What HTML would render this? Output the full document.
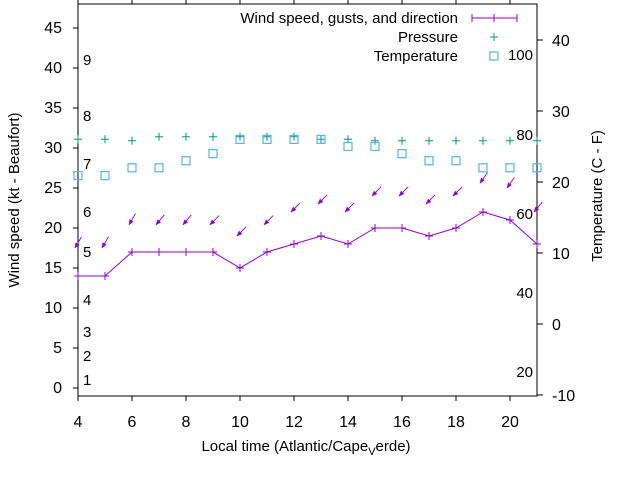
<!DOCTYPE html>
<html><head><meta charset="utf-8"><style>
body{margin:0;background:#fff}
svg{display:block;font-family:"Liberation Sans",sans-serif}
</style></head><body>
<svg id="chart" width="640" height="480" viewBox="0 0 640 480"></svg>
<script>
const hours=[4,5,6,7,8,9,10,11,12,13,14,15,16,17,18,19,20,21];
const windSpeed=[14,14,17,17,17,17,15,17,18,19,18,20,20,19,20,22,21,18];
const gusts=[17.5,17.5,20.4,20.4,20.4,20.4,19,20.4,22,23,22,24,24,23,24,25.6,25,22];
const gustDir=[30,30,30,40,40,45,45,45,45,45,45,45,45,45,45,35,35,40];
const pressure=[31.1,31.1,30.9,31.4,31.4,31.4,31.4,31.4,31.4,31.1,31.1,30.9,30.9,30.9,30.9,30.9,30.9,30.9];
const tempC=[20.9,20.9,22,22,23,24,26,26,26,26,25,25,24,23,23,22,22,22];
const leftTicks=[0,5,10,15,20,25,30,35,40,45];
const rightTicks=[-10,0,10,20,30,40];
const xTicks=[4,6,8,10,12,14,16,18,20];
const beaufort=[["1",379],["2",355],["3",331],["4",299],["5",251],["6",211],["7",163],["8",115],["9",59]];
const fahr=[["20",371],["40",292],["60",213],["80",134],["100",54]];
const L=78,R=537,T=4,B=396;
const X=h=>L+(h-4)*(R-L)/17;
const Y=v=>388-v*8;
const Y2=c=>40+(40-c)*7.1;
const svg=document.getElementById('chart');
const NS='http://www.w3.org/2000/svg';
function el(tag,attrs,parent){const e=document.createElementNS(NS,tag);for(const k in attrs)e.setAttribute(k,attrs[k]);(parent||svg).appendChild(e);return e;}
function txt(s,x,y,anchor,size){const t=el('text',{x:x,y:y,'text-anchor':anchor||'middle','font-size':size||15,fill:'#000'});t.textContent=s;return t;}
const frame=el('rect',{x:L,y:T,width:R-L,height:B-T,fill:'none',stroke:'#000','stroke-width':1});


leftTicks.forEach(v=>{const y=Y(v);el('line',{x1:L-5,y1:y,x2:L,y2:y,stroke:'#000'});
 const t=txt(String(v),62,y+5,'end',16);
 
 });
rightTicks.forEach(v=>{const y=Y2(v);el('line',{x1:R,y1:y,x2:R+6,y2:y,stroke:'#000'});
 const t=txt(String(v),552,y+6,'start',16);
 
 });
xTicks.forEach(v=>{const x=X(v);el('line',{x1:x,y1:B,x2:x,y2:B+5,stroke:'#000'});el('line',{x1:x,y1:T,x2:x,y2:T-4,stroke:'#000'});
 const t=txt(String(v),x,427,'middle',16);
 
 });
beaufort.forEach(b=>{const t=txt(b[0],83,b[1]+6,'start',15);
 
 });
fahr.forEach(f=>{const t=txt(f[0],533,f[1]+6,'end',15);
 
 });
const g1=el('g',{stroke:'#009e73','stroke-width':1});


hours.forEach((h,i)=>{const x=X(h),y=Y(pressure[i]);el('path',{d:`M${x-4} ${y}H${x+4}M${x} ${y-4}V${y+4}`},g1);});
const g2=el('g',{stroke:'#56b4e9','stroke-width':1.2,fill:'none'});


hours.forEach((h,i)=>{const x=X(h),y=Y2(tempC[i]);el('rect',{x:x-4,y:y-4,width:8,height:8},g2);});
const pts=hours.map((h,i)=>X(h)+','+Y(windSpeed[i])).join(' ');
const wl=el('polyline',{points:pts,fill:'none',stroke:'#9400d3','stroke-width':1});


const g3=el('g',{stroke:'#9400d3','stroke-width':1});


hours.forEach((h,i)=>{const x=X(h),y=Y(windSpeed[i]);el('path',{d:`M${x-4} ${y}H${x+4}M${x} ${y-4}V${y+4}`},g3);});
const g4=el('g',{stroke:'#9400d3','stroke-width':0.9,fill:'#9400d3'});


hours.forEach((h,i)=>{const x=X(h)-3,y=Y(gusts[i]);const a=gustDir[i]*Math.PI/180;
 const dx=Math.sin(a)*13,dy=-Math.cos(a)*13;
 el('line',{x1:x,y1:y,x2:x+dx,y2:y+dy},g4);
 const ux=dx/13,uy=dy/13,px=-uy,py=ux;
 el('polygon',{points:`${x},${y} ${x+ux*5+px*2},${y+uy*5+py*2} ${x+ux*5-px*2},${y+uy*5-py*2}`,'stroke-width':0.5},g4);});
const lg=el('g',{});


[["Wind speed, gusts, and direction",18],["Pressure",37],["Temperature",56]].forEach(r=>{const t=txt(r[0],458,r[1]+5,'end',15);lg.appendChild(t);});
el('path',{d:'M472 18H517M472 14V22M517 14V22M494 14V22',stroke:'#9400d3',fill:'none'},lg);
el('path',{d:'M490 37H498M494 33V41',stroke:'#009e73',fill:'none'},lg);
el('rect',{x:490,y:52,width:8,height:8,stroke:'#56b4e9',fill:'none','stroke-width':1.2},lg);
const xt=el('text',{x:306,y:451,'text-anchor':'middle','font-size':15});
xt.innerHTML='Local time (Atlantic/Cape<tspan font-size="11" dy="4">V</tspan><tspan dy="-4">erde)</tspan>';


const yl=txt('Wind speed (kt - Beaufort)',0,0,'middle',15);
yl.setAttribute('transform','translate(19,200) rotate(-90)');


const yr=txt('Temperature (C - F)',0,0,'middle',15);
yr.setAttribute('transform','translate(602,196) rotate(-90)');


</script>
</body></html>
